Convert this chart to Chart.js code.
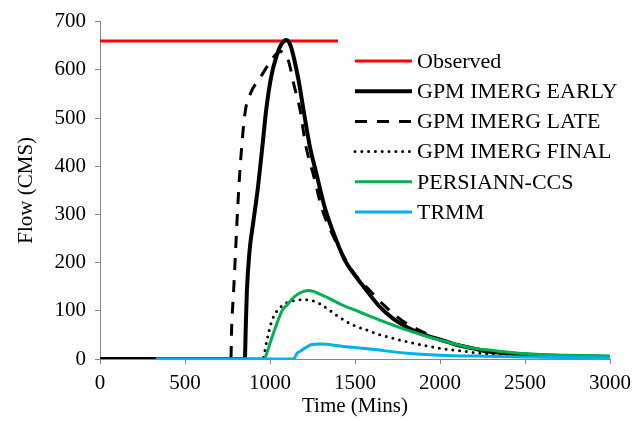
<!DOCTYPE html>
<html>
<head>
<meta charset="utf-8">
<script src="https://cdn.jsdelivr.net/npm/chart.js@4.4.1/dist/chart.umd.min.js"></script>
<style>
  html, body { margin: 0; padding: 0; background: #fff; }
  #wrap { position: relative; width: 644px; height: 421px; }
</style>
</head>
<body>
<div id="wrap"><canvas id="flow"></canvas></div>
<script>
// Hydrograph: simulated flow from each precipitation product vs observed peak
const xTicks = [0, 500, 1000, 1500, 2000, 2500, 3000];
const yTicks = [0, 100, 200, 300, 400, 500, 600, 700];

const observedT = [0, 1400];
const observedQ = [660, 660];

const earlyT = [0, 852, 857, 864, 880, 902, 927, 957, 977, 1006, 1040, 1065, 1096, 1119, 1165, 1198, 1231, 1276, 1325, 1394, 1440, 1490, 1540, 1590, 1649, 1720, 1806, 1900, 2002, 2100, 2196, 2276, 2400, 2511, 2750, 3000];
const earlyQ = [0, 0, 60, 141, 225, 285, 350, 447, 515, 584, 630, 652, 662, 652, 584, 515, 447, 380, 311, 243, 205, 178, 155, 132, 107, 85, 66, 51, 40, 29, 22, 16, 12, 9, 6, 4];

const lateT = [0, 770, 774, 786, 815, 835, 855, 884, 943, 1002, 1035, 1065, 1090, 1110, 1140, 1178, 1208, 1257, 1306, 1335, 1400, 1492, 1590, 1678, 1776, 1900, 2002, 2200, 2400, 2700, 3000];
const lateQ = [0, 0, 60, 141, 346, 447, 515, 550, 584, 617, 632, 638, 632, 617, 570, 515, 447, 380, 311, 284, 235, 179, 141, 109, 80, 56, 40, 22, 12, 6, 4];

const finalT = [330, 958, 963, 982, 1012, 1060, 1139, 1218, 1296, 1394, 1492, 1571, 1649, 1806, 2002, 2139, 2315, 2500, 2750, 3000];
const finalQ = [0, 0, 5, 39, 80, 107, 121, 123, 114, 90, 70, 60, 50, 36, 22, 16, 9, 6, 4, 3];

const persiannT = [330, 968, 972, 1012, 1071, 1100, 1139, 1227, 1316, 1433, 1531, 1649, 1806, 2002, 2198, 2276, 2511, 2750, 3000];
const persiannQ = [0, 0, 3, 45, 100, 112, 128, 142, 131, 111, 97, 80, 60, 39, 22, 19, 11, 8, 6];

const trmmT = [330, 1139, 1159, 1178, 1208, 1247, 1296, 1433, 1600, 1806, 2002, 2198, 2500, 3000];
const trmmQ = [0, 0, 12, 16, 23, 30, 31, 26, 20, 12, 8, 6, 4, 2];

const pts = (t, q) => t.map((x, i) => ({ x, y: q[i] }));

const SERIF = "'Liberation Serif', 'Times New Roman', serif";
const AXIS = '#868686';

// later series sit on top, so weight the draw order in reverse
function series(label, t, q, color, width, extra, order) {
  return Object.assign({
    label,
    data: pts(t, q),
    borderColor: color,
    backgroundColor: color,
    borderWidth: width,
    pointRadius: 0,
    fill: false,
    cubicInterpolationMode: 'monotone',
    order,
  }, extra || {});
}

const datasets = [
  series('Observed', observedT, observedQ, '#FF0000', 3, null, 5),
  series('GPM IMERG EARLY', earlyT, earlyQ, '#000000', 4, null, 4),
  series('GPM IMERG LATE', lateT, lateQ, '#000000', 3, { borderDash: [12, 10] }, 3),
  series('GPM IMERG FINAL', finalT, finalQ, '#000000', 3, { borderDash: [0, 6.8], borderCapStyle: 'round' }, 2),
  series('PERSIANN-CCS', persiannT, persiannQ, '#00B050', 3, null, 1),
  series('TRMM', trmmT, trmmQ, '#00B0F0', 3, null, 0),
];

// legend drawn inside the plot, in dataset order
const insideLegend = {
  id: 'insideLegend',
  afterDatasetsDraw(chart, args, opts) {
    const ctx = chart.ctx;
    ctx.save();
    ctx.font = opts.font;
    ctx.textBaseline = 'middle';
    ctx.fillStyle = '#000';
    chart.data.datasets.forEach((ds, i) => {
      const y = opts.top + i * opts.rowGap;
      ctx.beginPath();
      ctx.strokeStyle = ds.borderColor;
      ctx.lineWidth = ds.borderWidth;
      ctx.lineCap = ds.borderCapStyle || 'butt';
      ctx.setLineDash(ds.borderDash || []);
      ctx.moveTo(opts.x0, y);
      ctx.lineTo(opts.x1, y);
      ctx.stroke();
      ctx.setLineDash([]);
      ctx.fillText(ds.label, opts.textX, y + 1);
    });
    ctx.restore();
  }
};

new Chart(document.getElementById('flow'), {
  type: 'line',
  data: { datasets },
  plugins: [insideLegend],
  options: {
    responsive: true,
    maintainAspectRatio: false,
    animation: false,
    layout: { padding: { top: 16, right: 34, left: 0, bottom: 0 } },
    plugins: {
      legend: { display: false },
      tooltip: { enabled: false },
      insideLegend: {
        font: '22px ' + SERIF,
        top: 61, rowGap: 30.2, x0: 355, x1: 412, textX: 417,
      },
    },
    scales: {
      x: {
        type: 'linear',
        min: 0, max: 3000,
        afterBuildTicks: (s) => { s.ticks = xTicks.map((v) => ({ value: v })); },
        afterFit: (s) => { s.height = 62; },
        grid: { drawOnChartArea: false, drawTicks: true, tickLength: 5, color: AXIS },
        border: { color: AXIS, width: 1 },
        ticks: { color: '#000', font: { family: SERIF, size: 21 }, padding: 7, maxRotation: 0, callback: (v) => String(v) },
        title: { display: true, text: 'Time (Mins)', color: '#000', font: { family: SERIF, size: 21 }, padding: { top: 0, bottom: 2 } },
      },
      y: {
        min: 0, max: 700,
        afterBuildTicks: (s) => { s.ticks = yTicks.map((v) => ({ value: v })); },
        afterFit: (s) => { s.width = 100; },
        grid: { drawOnChartArea: false, drawTicks: true, tickLength: 5, color: AXIS },
        border: { color: AXIS, width: 1 },
        ticks: { color: '#000', font: { family: SERIF, size: 21 }, padding: 9, callback: (v) => String(v) },
        title: { display: true, text: 'Flow (CMS)', color: '#000', font: { family: SERIF, size: 21 }, padding: { top: 14, bottom: 0 } },
      },
    },
  },
});
</script>
</body>
</html>
